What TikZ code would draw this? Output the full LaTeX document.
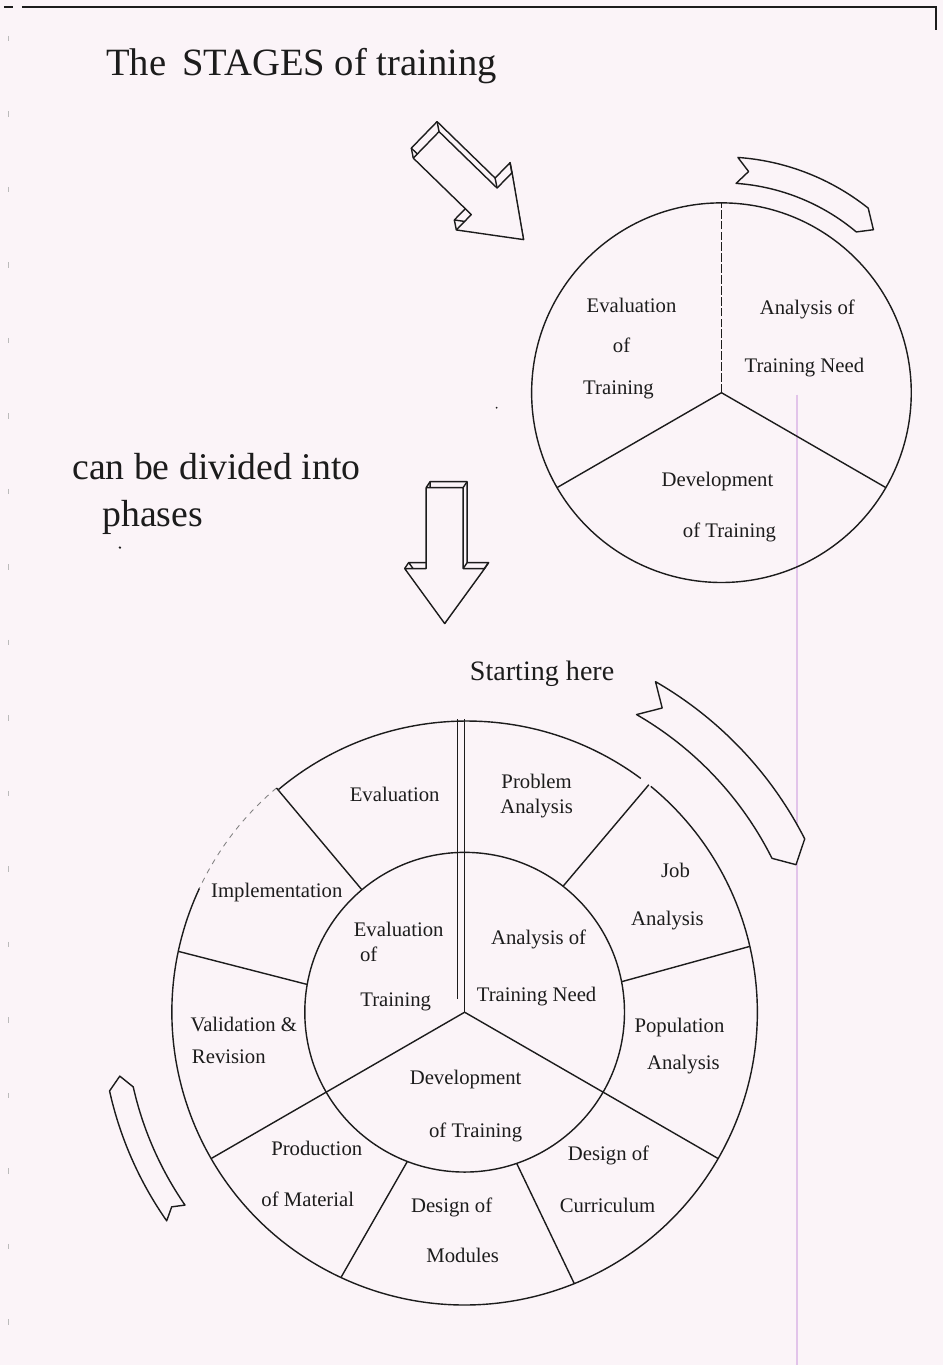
\documentclass[tikz,border=0pt]{standalone}
\usepackage{fontspec}
\setmainfont{Liberation Serif}
\usetikzlibrary{calc}
\definecolor{paper}{RGB}{251,244,248}
\definecolor{ink}{RGB}{28,28,28}
\definecolor{margin line}{RGB}{226,196,234}
\tikzset{
  stage text/.style={
    font=\fontsize{11.8}{14}\selectfont, text=ink, inner sep=0pt, anchor=base
  },
  heading text/.style={
    font=\fontsize{21.5}{26}\selectfont, text=ink, inner sep=0pt, anchor=base west
  },
  wheel/.style={
    circle, draw=ink, line width=0.8pt, inner sep=0pt, outer sep=0pt
  },
  wheel line/.style={draw=ink, line width=0.8pt},
  faint line/.style={draw=ink!55, line width=0.5pt, dash pattern=on 3pt off 3pt},
  ribbon/.style={draw=ink, line width=0.8pt, fill=paper, line join=round},
  block face/.style={draw=ink, line width=0.8pt, fill=paper, line join=round},
  pics/block arrow/.style 2 args={
    code={
      \begin{scope}[shift={(#1,#2)}]
        \draw[block face] (0,18.5) -- (81,18.5) -- (81,40) -- (136,0)
          -- (81,-40) -- (81,-18.5) -- (0,-18.5) -- cycle;
      \end{scope}
      \foreach \p in {(0,18.5),(81,18.5),(81,40),(136,0),(81,-40),(81,-18.5),(0,-18.5)}
        \draw[block face] \p -- ++(#1,#2);
      \draw[block face] (0,18.5) -- (81,18.5) -- (81,40) -- (136,0)
        -- (81,-40) -- (81,-18.5) -- (0,-18.5) -- cycle;
    }
  }
}

\begin{document}
\begin{tikzpicture}[x=0.02cm, y=0.02cm]

\fill[paper] (0,0) rectangle (944,1366);

% page edges of the scan
\draw[ink, line width=1pt] (22,1359) -- (937,1359) -- (937,1336);
\draw[ink, line width=1pt] (4,1359) -- (13,1359);
\draw[ink!30, line width=0.5pt, dash pattern=on 3pt off 40pt] (8,1330) -- (8,10);
\draw[margin line, line width=1.2pt] (798,971) -- (798,0);

% headings
\node[heading text, font=\fontsize{22}{26}\selectfont] (title) at (106,1290) {The\, STAGES of training};
\node[heading text] (divided) at (72,886) {can be divided into};
\node[heading text] (phases) at (102,839) {phases};
\node[heading text, font=\fontsize{16}{19}\selectfont] (start) at (470,685) {Starting here};
\fill[ink] (120,818) circle[radius=1.3];
\fill[ink] (497,958) circle[radius=1];

% block arrows
\pic[rotate=-44.2] (arrowA) at (426.5,1221) {block arrow={-8.4}{5.8}};
\pic[rotate=-90]   (arrowB) at (445,878)    {block arrow={-6}{4}};

% top right: the three stages
\node[wheel, minimum size=7.6cm] (small) at (722,973) {};
\draw[wheel line, dash pattern=on 5pt off 1.2pt] (small.center) -- (small.90);
\draw[wheel line] (small.center) -- (small.210);
\draw[wheel line] (small.center) -- (small.330);
\begin{scope}[shift={(small.center)}]
  \draw[ribbon] (86:236) arc[start angle=86, end angle=51.5, radius=4.72cm]
    -- (47:223) -- (50:210) arc[start angle=50, end angle=86, radius=4.2cm]
    -- (83:223) -- cycle;
\end{scope}
\node[stage text] (sEvalA) at (632,1053) {Evaluation};
\node[stage text] (sEvalB) at (622,1013) {of};
\node[stage text] (sEvalC) at (619,971) {Training};
\node[stage text] (sNeedA) at (808,1051) {Analysis of};
\node[stage text] (sNeedB) at (805,993) {Training Need};
\node[stage text] (sDevA) at (718,879) {Development};
\node[stage text] (sDevB) at (730,828) {of Training};

% bottom: the stages divided into phases
\coordinate (bigc) at (465,353);
\node[wheel, minimum size=6.4cm] (inner) at (bigc) {};
\node[wheel, draw=none, minimum size=11.72cm] (outer) at (bigc) {};
\draw[wheel line] (outer.53.5) arc[start angle=53.5, end angle=130, radius=5.86cm];
\draw[faint line] (outer.130) arc[start angle=130, end angle=155, radius=5.86cm];
\draw[wheel line] (outer.155) arc[start angle=155, end angle=410.5, radius=5.86cm];
\draw[wheel line] ($(bigc)+(-7,293)$) -- ($(bigc)+(-7,13)$);
\draw[wheel line] (outer.90) -- (bigc);
\draw[wheel line] (bigc) -- (outer.210);
\draw[wheel line] (bigc) -- (outer.330);
\foreach \a/\b in {130/130, 170/168, 249/245, 289/292, 11/13, 52/51}
  \draw[wheel line] (inner.\a) -- (outer.\b);
\begin{scope}[shift={(bigc)}]
  \draw[ribbon] (60:382) arc[start angle=60, end angle=27, radius=7.64cm]
    -- (24:363) -- (26.6:344) arc[start angle=26.6, end angle=60, radius=6.88cm]
    -- (57:363) -- cycle;
  \draw[ribbon] (215:364) arc[start angle=215, end angle=192.5, radius=7.28cm]
    -- (190.5:351) -- (192.7:340) arc[start angle=192.7, end angle=214.6, radius=6.8cm]
    -- (213.6:352) -- cycle;
\end{scope}

% inner stages
\node[stage text] (bEvalA) at (399,429) {Evaluation};
\node[stage text] (bEvalB) at (369,404) {of};
\node[stage text] (bEvalC) at (396,359) {Training};
\node[stage text] (bNeedA) at (539,421) {Analysis of};
\node[stage text] (bNeedB) at (537,364) {Training Need};
\node[stage text] (bDevA) at (466,281) {Development};
\node[stage text] (bDevB) at (476,228) {of Training};

% outer phases
\node[stage text] (pEval) at (395,564) {Evaluation};
\node[stage text] (pProbA) at (537,577) {Problem};
\node[stage text] (pProbB) at (537,552) {Analysis};
\node[stage text] (pJobA) at (676,488) {Job};
\node[stage text] (pJobB) at (668,440) {Analysis};
\node[stage text] (pPopA) at (680,333) {Population};
\node[stage text] (pPopB) at (684,296) {Analysis};
\node[stage text] (pCurA) at (609,205) {Design of};
\node[stage text] (pCurB) at (608,153) {Curriculum};
\node[stage text] (pModA) at (452,153) {Design of};
\node[stage text] (pModB) at (463,103) {Modules};
\node[stage text] (pProdA) at (317,210) {Production};
\node[stage text] (pProdB) at (308,159) {of Material};
\node[stage text] (pValA) at (244,334) {Validation \&};
\node[stage text] (pValB) at (229,302) {Revision};
\node[stage text] (pImpl) at (277,468) {Implementation};

\end{tikzpicture}
\end{document}
